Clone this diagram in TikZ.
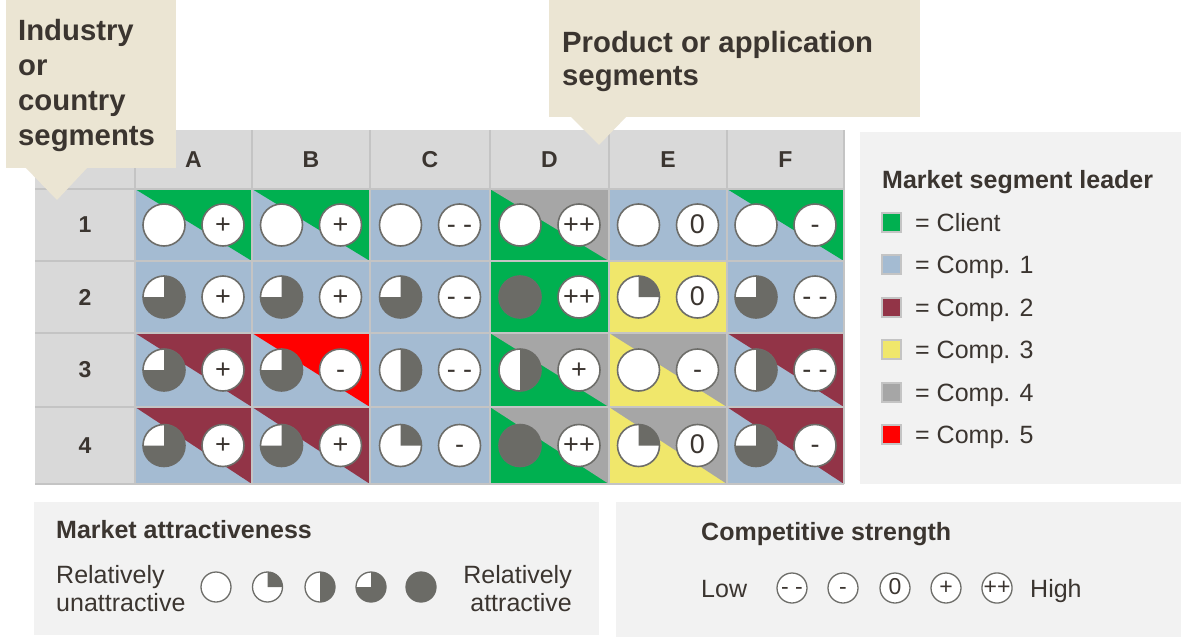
\documentclass[tikz,border=0pt]{standalone}
\usepackage{fontspec}
\setmainfont{Liberation Sans}
\definecolor{cgreen}{HTML}{00B050}
\definecolor{cblue}{HTML}{A4BBD2}
\definecolor{cmaroon}{HTML}{923447}
\definecolor{cred}{HTML}{FF0000}
\definecolor{cyellow}{HTML}{F0E76B}
\definecolor{cgray}{HTML}{A6A6A6}
\definecolor{hdr}{HTML}{D9D9D9}
\definecolor{gridc}{HTML}{C4C4C4}
\definecolor{boxbg}{HTML}{F2F2F2}
\definecolor{beige}{HTML}{EBE5D3}
\definecolor{txt}{HTML}{3B3530}
\definecolor{piedk}{HTML}{6B6B66}
\definecolor{ring}{HTML}{6D6D69}
\newcommand\piewedge[3]{%
  \ifcase#2\relax
  \or \fill[piedk] (#1.center) -- ++(0,-#3) arc[start angle=-90,end angle=0,radius=#3] -- cycle;
  \or \fill[piedk] (#1.center) -- ++(0,-#3) arc[start angle=-90,end angle=90,radius=#3] -- cycle;
  \or \fill[piedk] (#1.center) -- ++(0,-#3) arc[start angle=-90,end angle=180,radius=#3] -- cycle;
  \or \fill[piedk] (#1.center) circle[radius=#3];
  \fi}
\newcommand\mcell[9]{%
  \fill[#6] (#2,#4) rectangle (#3,#5);
  \fill[#7] (#2,#4) -- (#3,#4) -- (#3,#5) -- cycle;
  \node[piec] (p#1) at ({(#2+#3)/2-29.5},{(#4+#5)/2}) {};
  \piewedge{p#1}{#8}{21}
  \node[symc] (s#1) at ({(#2+#3)/2+29.5},{(#4+#5)/2}) {#9};
}
\begin{document}
\begin{tikzpicture}[x=1pt,y=-1pt,
  piec/.style={circle,draw=ring,line width=1.6pt,fill=white,minimum size=42pt,inner sep=0pt},
  symc/.style={piec,font=\fontsize{27}{27}\selectfont,text=txt,text height=16.2pt,text depth=0pt},
  lpie/.style={piec,minimum size=30pt,line width=1.3pt},
  lsym/.style={lpie,font=\fontsize{23}{23}\selectfont,text=txt,text height=13.8pt,text depth=0pt},
  hdrlab/.style={font=\bfseries\fontsize{23}{23}\selectfont,text=txt,inner sep=0pt},
  calltxt/.style={font=\bfseries\fontsize{29.3}{29.3}\selectfont,text=txt,anchor=base west,inner sep=0pt},
  ttl/.style={font=\bfseries\fontsize{25}{25}\selectfont,text=txt,anchor=base west,inner sep=0pt},
  reg/.style={font=\fontsize{25}{25}\selectfont,text=txt,inner sep=0pt},
  lsq/.style={minimum size=19pt,draw=gridc,line width=2pt,inner sep=0pt},
  gridl/.style={draw=gridc,line width=2pt}]
\useasboundingbox (0,0) rectangle (1181,637);
\fill[white] (0,0) rectangle (1181,637);
% header and row label fills
\fill[hdr] (35,130) rectangle (844,189);
\fill[hdr] (35,189) rectangle (135,484);
% cells
\mcell{1A}{135}{252}{189}{261}{cblue}{cgreen}{0}{+}
\mcell{1B}{252}{370}{189}{261}{cblue}{cgreen}{0}{+}
\mcell{1C}{370}{490}{189}{261}{cblue}{cblue}{0}{- -}
\mcell{1D}{490}{609}{189}{261}{cgreen}{cgray}{0}{++}
\mcell{1E}{609}{727}{189}{261}{cblue}{cblue}{0}{0}
\mcell{1F}{727}{844}{189}{261}{cblue}{cgreen}{0}{-}
\mcell{2A}{135}{252}{261}{333}{cblue}{cblue}{3}{+}
\mcell{2B}{252}{370}{261}{333}{cblue}{cblue}{3}{+}
\mcell{2C}{370}{490}{261}{333}{cblue}{cblue}{3}{- -}
\mcell{2D}{490}{609}{261}{333}{cgreen}{cgreen}{4}{++}
\mcell{2E}{609}{727}{261}{333}{cyellow}{cyellow}{1}{0}
\mcell{2F}{727}{844}{261}{333}{cblue}{cblue}{3}{- -}
\mcell{3A}{135}{252}{333}{407}{cblue}{cmaroon}{3}{+}
\mcell{3B}{252}{370}{333}{407}{cblue}{cred}{3}{-}
\mcell{3C}{370}{490}{333}{407}{cblue}{cblue}{2}{- -}
\mcell{3D}{490}{609}{333}{407}{cgreen}{cgray}{2}{+}
\mcell{3E}{609}{727}{333}{407}{cyellow}{cgray}{0}{-}
\mcell{3F}{727}{844}{333}{407}{cblue}{cmaroon}{2}{- -}
\mcell{4A}{135}{252}{407}{484}{cblue}{cmaroon}{3}{+}
\mcell{4B}{252}{370}{407}{484}{cblue}{cmaroon}{3}{+}
\mcell{4C}{370}{490}{407}{484}{cblue}{cblue}{1}{-}
\mcell{4D}{490}{609}{407}{484}{cgreen}{cgray}{4}{++}
\mcell{4E}{609}{727}{407}{484}{cyellow}{cgray}{1}{0}
\mcell{4F}{727}{844}{407}{484}{cblue}{cmaroon}{3}{-}
% grid lines
\foreach \yy in {189,261,333,407,484} \draw[gridl] (35,\yy) -- (844,\yy);
\foreach \xx in {135,252,370,490,609,727,844} \draw[gridl] (\xx,130) -- (\xx,484);
% header labels
\node[hdrlab] (hA) at (193.5,160) {A};
\node[hdrlab] (hB) at (311,160) {B};
\node[hdrlab] (hC) at (430,160) {C};
\node[hdrlab] (hD) at (549.5,160) {D};
\node[hdrlab] (hE) at (668,160) {E};
\node[hdrlab] (hF) at (785.5,160) {F};
\node[hdrlab] (r1) at (85,225) {1};
\node[hdrlab] (r2) at (85,297) {2};
\node[hdrlab] (r3) at (85,370) {3};
\node[hdrlab] (r4) at (85,445.5) {4};
% callouts
\fill[beige] (6,0) rectangle (176,168);
\fill[beige] (25,167) -- (88,167) -- (57,200) -- cycle;
\node[calltxt] (c1a) at (18,40) {Industry};
\node[calltxt] (c1b) at (18,75) {or};
\node[calltxt] (c1c) at (18,110) {country};
\node[calltxt] (c1d) at (18,145) {segments};
\fill[beige] (549,0) rectangle (920,117);
\fill[beige] (570,116) -- (627,116) -- (599,145) -- cycle;
\node[calltxt] (c2a) at (562,52) {Product or application};
\node[calltxt] (c2b) at (562,85) {segments};
% legend: market segment leader
\fill[boxbg] (860,132) rectangle (1181,484);
\node[ttl] (lt) at (882,188) {Market segment leader};
\node[lsq,fill=cgreen] (lq1) at (891,222) {};
\node[lsq,fill=cblue] (lq2) at (891,264) {};
\node[lsq,fill=cmaroon] (lq3) at (891,307) {};
\node[lsq,fill=cyellow] (lq4) at (891,349) {};
\node[lsq,fill=cgray] (lq5) at (891,392) {};
\node[lsq,fill=cred] (lq6) at (891,434) {};
\node[reg,anchor=base west] (lx1) at (915,231) {= Client};
\node[reg,anchor=base west] (lx2) at (915,273) {= Comp. 1};
\node[reg,anchor=base west] (lx3) at (915,316) {= Comp. 2};
\node[reg,anchor=base west] (lx4) at (915,358) {= Comp. 3};
\node[reg,anchor=base west] (lx5) at (915,401) {= Comp. 4};
\node[reg,anchor=base west] (lx6) at (915,443) {= Comp. 5};
% market attractiveness
\fill[boxbg] (34,502) rectangle (599,635);
\node[ttl] (mat) at (56,538) {Market attractiveness};
\node[reg,anchor=base west] (ma1) at (56,583) {Relatively};
\node[reg,anchor=base west] (ma2) at (56,611) {unattractive};
\node[reg,anchor=base east] (ma3) at (572,583) {Relatively};
\node[reg,anchor=base east] (ma4) at (572,611) {attractive};
\node[lpie] (mp0) at (216,587) {};
\node[lpie] (mp1) at (267.5,587) {}; \piewedge{mp1}{1}{15}
\node[lpie] (mp2) at (320,587) {}; \piewedge{mp2}{2}{15}
\node[lpie] (mp3) at (371,587) {}; \piewedge{mp3}{3}{15}
\node[lpie] (mp4) at (421,587) {}; \piewedge{mp4}{4}{15}
% competitive strength
\fill[boxbg] (616,502) rectangle (1181,637);
\node[ttl] (cst) at (701,540) {Competitive strength};
\node[reg,anchor=base west] (low) at (701,597) {Low};
\node[lsym] (cs1) at (792,588) {- -};
\node[lsym] (cs2) at (843,588) {-};
\node[lsym] (cs3) at (895,588) {0};
\node[lsym] (cs4) at (946,588) {+};
\node[lsym] (cs5) at (997,588) {++};
\node[reg,anchor=base west] (high) at (1030,597) {High};
\end{tikzpicture}
\end{document}
